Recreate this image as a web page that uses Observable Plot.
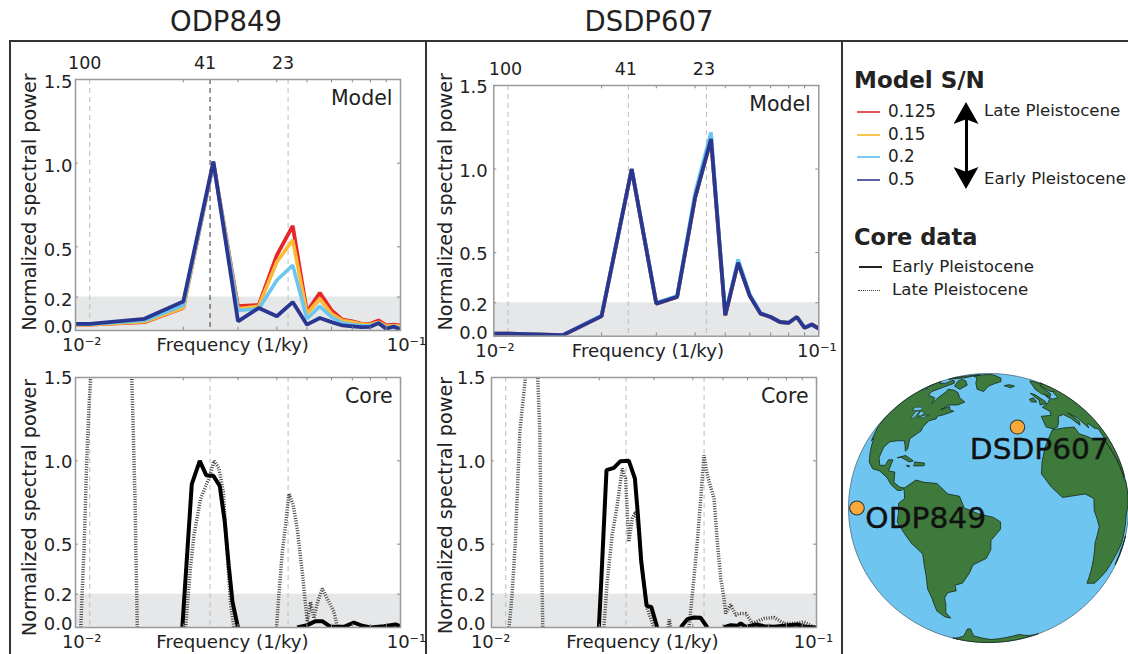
<!DOCTYPE html>
<html><head><meta charset="utf-8">
<script src="https://cdn.jsdelivr.net/npm/d3@7"></script>
<script src="https://cdn.jsdelivr.net/npm/@observablehq/plot@0.6"></script>
<style>
html,body{margin:0;padding:0;background:#fff;overflow:hidden}
body{width:1128px;height:654px;position:relative;font-family:"DejaVu Sans",sans-serif;color:#222}
.abs{position:absolute;white-space:nowrap;line-height:1}
.panel{position:absolute}
.panel svg{display:block;overflow:visible;background:none}
.rule{position:absolute;background:#333}
</style></head><body>
<script>
// ---------- data ----------
const gridFreq=[0.005,0.01,0.015,0.02,0.025,0.03,0.035,0.04,0.045,0.05,0.055,0.06,0.065,0.07,0.075,0.08,0.085,0.09,0.095,0.1];
const odpRed   =[0.035,0.035,0.05,0.135,1.0,0.145,0.153,0.45,0.625,0.11,0.225,0.12,0.065,0.055,0.04,0.04,0.06,0.03,0.035,0.03];
const odpYellow=[0.035,0.035,0.052,0.135,1.0,0.13,0.145,0.41,0.54,0.1,0.19,0.1,0.06,0.05,0.038,0.036,0.05,0.025,0.03,0.025];
const odpSky   =[0.037,0.037,0.06,0.15,1.0,0.12,0.13,0.3,0.39,0.07,0.145,0.08,0.045,0.035,0.028,0.028,0.045,0.015,0.025,0.012];
const odpNavy  =[0.04,0.04,0.07,0.173,1.01,0.055,0.135,0.085,0.17,0.035,0.075,0.05,0.03,0.025,0.02,0.022,0.044,0.01,0.024,0.005];
const dsdpNavy =[0.016,0.016,0.006,0.12,1.0,0.195,0.235,0.83,1.18,0.125,0.44,0.24,0.135,0.115,0.085,0.08,0.115,0.05,0.07,0.045];
const dsdpSky  =[0.016,0.016,0.006,0.125,1.0,0.2,0.24,0.86,1.22,0.13,0.46,0.25,0.14,0.115,0.085,0.08,0.115,0.05,0.07,0.045];

const odpEarlyF=[0.01986,0.02035,0.0213,0.0226,0.0237,0.025,0.0262,0.0272,0.028,0.0288,0.03,null,0.0465,0.0501,0.0533,0.056,0.0596,0.0658,0.0708,0.0753,0.0801,0.0884,0.0964,0.1];
const odpEarlyP=[0,0.3,0.86,1.0,0.914,0.91,0.85,0.634,0.374,0.154,0,null,0,0.014,0.038,0.038,0.004,0.004,0.03,0.01,0,0.008,0.018,0.008];
const odpLateF=[0.00936,0.00945,0.00959,0.00978,0.00995,0.01007,0.0103,0.0135,0.01365,0.0138,0.01399,0.0141,0.01423,null,
 0.02035,0.0207,0.02113,0.02165,0.02275,0.02419,0.02511,0.02606,0.02691,0.02771,0.02841,0.02912,null,
 0.0399,0.0406,0.04165,0.04268,0.04375,0.04518,0.04652,0.04829,0.0495,0.05012,0.05136,0.05263,0.05395,0.056,0.05811,0.06105,0.0626];
const odpLateP=[0,0.2,0.47,1.0,1.33,1.5,1.7,1.7,1.5,1.2,0.77,0.38,0,null,
 0,0.174,0.374,0.554,0.774,0.894,1.0,0.954,0.814,0.434,0.134,0,null,
 0,0.194,0.454,0.614,0.804,0.734,0.594,0.334,0.134,0.034,0.154,0.054,0.144,0.234,0.174,0.094,0.004];

const dsdpEarlyF=[0.01994,0.02029,0.0211,0.02228,0.02341,0.0249,0.02604,0.02663,0.0273,0.0284,0.0294,0.03073,null,
 0.03655,0.0384,0.04035,0.04241,0.04455,null,
 0.05016,0.05297,0.05565,0.05704,0.05919,0.06376,0.06782,0.07303,0.07865,0.08686,0.09239,0.1];
const dsdpEarlyP=[0,0.274,0.944,0.958,0.998,1.0,0.894,0.674,0.394,0.13,0.124,0,null,
 0,0.05,0.06,0.058,0,null,
 0,0.014,0.01,0.024,0.004,0.018,0.008,0.004,0.01,0.018,0.004,0];
const dsdpLateF=[0.01025,0.01048,0.01074,0.0111,0.01157,0.0119,0.0125,0.01268,0.01287,0.013,0.01316,null,
 0.0207,0.02121,0.022,0.02285,0.02371,0.0243,0.0249,0.02554,0.02617,0.02683,0.0275,0.02854,0.02998,null,
 0.03327,0.0336,0.03394,null,
 0.03888,0.03984,0.04135,0.04241,0.04345,0.04455,0.04679,0.04797,0.04918,0.05041,0.05103,0.05297,0.05497,0.05633,0.05919,0.06221,0.06782,0.07303,0.07865,0.08472,0.09125,0.09829];
const dsdpLateP=[0,0.194,0.514,1.174,1.5,1.7,1.7,1.5,1.174,0.574,0,null,
 0,0.274,0.554,0.734,0.954,0.894,0.514,0.654,0.694,0.574,0.334,0.114,0,null,
 0,0.05,0,null,
 0,0.194,0.514,0.774,1.034,0.914,0.774,0.514,0.294,0.174,0.084,0.138,0.074,0.084,0.084,0.024,0.054,0.06,0.024,0.024,0.034,0];

const yTicks=[0.2,0.5,1.0,1.5];
const minorX=[0.02,0.03,0.04,0.05,0.06,0.07,0.08,0.09];
const periods=[100,41,23];
const periodLabels=["100","41","23"];
const titles=["ODP849","DSDP607"];
const snLabels=["0.125","0.15","0.2","0.5"];
const snColors=["#e0565c","#f8c64f","#7ccbee","#5a60ae"];
const coreLabels=["Early Pleistocene","Late Pleistocene"];

// land outlines, lon/lat
const landRings=[
 [[-168,66],[-156,71],[-140,70],[-125,70],[-110,68],[-95,68],[-94,72],[-85,70],[-81,68],[-87,64],[-94,60],[-92,57],[-82,55],[-80,51],[-79,55],[-77,60],[-78,62],[-70,61],[-65,59],[-61,55],[-56,52],[-60,50],[-66,50],[-70,47],[-65,49],[-64,47],[-61,46],[-66,44],[-70,43],[-70,41.5],[-74,40.5],[-76,37],[-76,35],[-81,31],[-80,26],[-81,25],[-82.5,28],[-84,30],[-89,30],[-94,29.5],[-97,27],[-97.5,22],[-95,18.5],[-91,18.5],[-90,21],[-87,21],[-88,16],[-84,15.5],[-83.5,11],[-80,9],[-77.5,8.5],[-79,7.5],[-81,7.5],[-85,10],[-88,13],[-94,16],[-100,17],[-105,20],[-109,25.5],[-113,31],[-115,30],[-118,34],[-122,37],[-124,41],[-124,48],[-130,54],[-135,58],[-145,60],[-152,59],[-160,55],[-165,54.5],[-158,58],[-165,61],[-165,64]],
 [[-80,73],[-70,71],[-62,66],[-66,62],[-75,65],[-80,70]],
 [[-120,76],[-100,78],[-85,80],[-75,82],[-65,82],[-80,76],[-95,74],[-115,73]],
 [[-55,82],[-30,83],[-20,75],[-25,70],[-40,65],[-44,60],[-50,62],[-54,68],[-60,76],[-70,78]],
 [[-24,65.5],[-18,66.5],[-14,65],[-19,63.5]],
 [[-77.5,8.5],[-72,12],[-68,11],[-62,10.5],[-57,6],[-52,5],[-50,0],[-44,-2.5],[-38,-4],[-35,-6],[-35,-9],[-39,-14],[-39,-18],[-41,-22],[-47,-25],[-49,-29],[-53,-34],[-57,-35],[-57,-38],[-62,-39],[-65,-42],[-66,-46],[-69,-51],[-68,-55],[-72,-54],[-75,-50],[-73,-42],[-73,-37],[-71,-30],[-70,-20],[-75,-15],[-81,-6],[-80,-2],[-80,2],[-77,4]],
 [[-6,35.5],[10,37],[11,33.5],[20,31],[32,31],[35,28],[43,12],[51,12],[48,4],[40,-3],[40,-15],[35,-22],[32,-28],[26,-34],[18,-34],[14,-22],[12,-15],[13,-8],[9,-1],[9,4],[4,6],[-4,5],[-8,4.5],[-13,9],[-17,14.7],[-16,20],[-13,27],[-10,31]],
 [[-9,37],[-9,43],[-2,43.5],[-1,46],[-4.5,48.5],[2,51],[8,54],[8,57],[11,54],[20,55],[24,59],[30,60],[22,60],[21,64],[24,66],[18,62],[17,58],[12,56],[6,58],[5,62],[14,68],[25,71],[40,67],[60,69],[70,40],[60,25],[55,20],[45,13],[43,15],[35,28],[36,36],[30,36.5],[26,39],[24,38],[23,36.5],[20,40],[19,42],[13,45],[18,40],[16,38],[12,42],[8,44],[3,43],[0,39],[-2,37],[-5,36]],
 [[-5,58.5],[-2,57.5],[1.5,52.5],[1,51],[-5,50],[-3,53]],
 [[-10,54],[-6,55],[-6,52],[-10,52]],
 [[-84.5,22],[-80,23],[-75,20.5],[-77,20],[-82,22]],
 [[-74,20],[-69,19.5],[-69,18.3],[-74,18.2]],
 [[-78,18.5],[-76.3,18.2],[-77,17.8]],
 [[49,-12],[50,-16],[47,-25],[44,-24],[44,-17]],
 [[-180,-78],[-120,-75],[-75,-72],[-60,-64],[-57,-64],[-60,-72],[-35,-78],[0,-70],[60,-67],[120,-66],[180,-72],[180,-78]]
];
const lakeRings=[
 [[-92,48.5],[-85,48.5],[-85,46.5],[-92,46.5]],
 [[-88,46],[-85,46],[-86,42],[-88,42]],
 [[-84,46],[-80,45],[-82,43],[-84,44]],
 [[-83,42.5],[-79,43.5],[-76,44],[-79,42.2]],
 [[-125,66.5],[-118,66.5],[-118,65],[-125,65]],
 [[-118,62.5],[-110,62.5],[-114,60.8],[-118,61]]
];
const sites=[{name:"DSDP607",lon:-25,lat:37,dx:21,dy:23},{name:"ODP849",lon:-110,lat:0,dx:66,dy:11}];

// ---------- helpers ----------
const rows=(xs,ys)=>xs.map((x,i)=>({x,y:ys[i]}));
const FONT='"DejaVu Sans",sans-serif', INK="#222", XMIN=0.009;
const line=(xs,ys,stroke,sw,extra={})=>Plot.line(rows(xs,ys),{x:"x",y:"y",stroke,strokeWidth:sw,clip:true,strokeLinejoin:"miter",strokeLinecap:"butt",...extra});
function mount(node,left,top){const w=document.createElement("div");w.className="panel";w.style.left=left+"px";w.style.top=top+"px";w.appendChild(node);document.body.appendChild(w);}
function div(cls,css,txt){const d=document.createElement("div");d.className=cls;d.style.cssText=css;if(txt)d.textContent=txt;document.body.appendChild(d);return d;}

function panel(c){
 const marks=[
  Plot.rectY([0],{x1:XMIN,x2:0.1,y1:0,y2:0.2,fill:"#e6e7e8"}),
  Plot.ruleX(periods,{x:d=>1/d,stroke:d=>(c.darkRule===d?"#333":"#bdbdbd"),strokeWidth:1,strokeDasharray:"5 4"}),
  ...c.lines,
  Plot.ruleX(minorX,{x:d=>d,y1:0,y2:0.02,stroke:"#888"}),
  Plot.ruleX(minorX,{x:d=>d,y1:1.48,y2:1.5,stroke:"#888"}),
  Plot.ruleY(yTicks,{y:d=>d,x1:XMIN,x2:0.0092,stroke:"#888"}),
  Plot.ruleY(yTicks,{y:d=>d,x1:0.0978,x2:0.1,stroke:"#888"}),
  Plot.frame({stroke:"#999",strokeWidth:1.5}),
  Plot.text(yTicks,{y:d=>d,frameAnchor:"left",textAnchor:"end",text:d=>d.toFixed(1),dx:c.tickDx,dy:c.tickDy,fontSize:18,fill:INK}),
  Plot.text([0],{y:d=>d,frameAnchor:"left",textAnchor:"end",text:d=>d.toFixed(1),dx:c.tickDx,dy:-3,fontSize:18,fill:INK}),
  Plot.text(["Normalized spectral power"],{frameAnchor:"left",textAnchor:"middle",lineAnchor:"middle",rotate:-90,dx:c.yLabelDx,dy:c.yLabelDy,fontSize:19.2,fill:INK}),
  Plot.text(["10\u207B\u00B2"],{x:()=>0.01,frameAnchor:"bottom",lineAnchor:"middle",dx:c.decDx[0],dy:c.decDy,fontSize:18,fill:INK}),
  Plot.text(["10\u207B\u00B9"],{x:()=>0.1,frameAnchor:"bottom",lineAnchor:"middle",dx:c.decDx[1],dy:c.decDy,fontSize:18,fill:INK}),
  Plot.text(["Frequency (1/ky)"],{x:()=>c.freqX,frameAnchor:"bottom",lineAnchor:"middle",dy:c.decDy,fontSize:18.2,fill:INK}),
  Plot.text([c.tag],{frameAnchor:"top-right",textAnchor:"end",lineAnchor:"middle",dx:-8,dy:19,fontSize:20.5,fill:INK})
 ];
 if(c.top) marks.push(Plot.text(periods,{x:d=>1/d,text:(d,i)=>periodLabels[i],frameAnchor:"top",lineAnchor:"middle",dx:c.topDx,dy:-16,fontSize:17.5,fill:INK}));
 const p=Plot.plot({width:c.w,height:c.h,marginLeft:c.ml,marginRight:c.mr,marginTop:c.mt,marginBottom:c.mb,
  style:{fontFamily:FONT,background:"none",overflow:"visible"},
  x:{type:"log",domain:[XMIN,0.1],axis:null},y:{domain:[0,1.5],axis:null},marks});
 mount(p,c.left,c.top0);
}
const modelLines=(r,y,s,n)=>[line(gridFreq,r,"#e8262a",3.8),line(gridFreq,y,"#fbb936",3.6),line(gridFreq,s,"#6cc5ee",3.6),line(gridFreq,n,"#2a3790",3.8)];
const coreLines=(ef,ep,lf,lp)=>[line(lf,lp,"#444",3.5,{strokeDasharray:"1 1.5"}),line(ef,ep,"#000",4)];

// ---------- frame and titles ----------
div("rule","left:9px;top:40px;width:1119px;height:2px");
div("rule","left:9px;top:40px;width:2px;height:614px");
div("rule","left:425px;top:40px;width:2px;height:614px");
div("rule","left:841px;top:40px;width:2px;height:614px");
div("abs","left:126px;width:200px;text-align:center;top:8px;font-size:27.5px",titles[0]);
div("abs","left:549px;width:200px;text-align:center;top:8px;font-size:27.5px",titles[1]);

// ---------- panels ----------
panel({left:11,top0:43,w:414,h:319,ml:64,mr:25,mt:36,mb:32,tag:"Model",top:true,darkRule:41,topDx:-5,
 tickDx:-3,tickDy:3,yLabelDx:-46,yLabelDy:-3,decDx:[-8,6],decDy:15,freqX:0.02884,
 lines:modelLines(odpRed,odpYellow,odpSky,odpNavy)});
panel({left:428,top0:43,w:413,h:319,ml:65.3,mr:22.7,mt:42,mb:26.3,tag:"Model",top:true,topDx:-2.5,
 tickDx:-6,tickDy:2,yLabelDx:-48,yLabelDy:-9,decDx:[-13,-2],decDy:15,freqX:0.0282,
 lines:modelLines(dsdpNavy,dsdpNavy,dsdpSky,dsdpNavy)});
panel({left:11,top0:366,w:414,h:288,ml:64,mr:25,mt:11,mb:27,tag:"Core",tickDx:-3,tickDy:1,yLabelDx:-46,yLabelDy:5,decDx:[-8,6],decDy:15,freqX:0.0288,
 lines:coreLines(odpEarlyF,odpEarlyP,odpLateF,odpLateP)});
panel({left:428,top0:366,w:413,h:288,ml:63,mr:25,mt:11,mb:27,tag:"Core",tickDx:-6,tickDy:1,yLabelDx:-46,yLabelDy:3,decDx:[-15,-3],decDy:15,freqX:0.02754,
 lines:coreLines(dsdpEarlyF,dsdpEarlyP,dsdpLateF,dsdpLateP)});

// ---------- legend ----------
div("abs","left:854px;top:69px;font-size:23px;font-weight:bold","Model S/N");
snLabels.forEach((t,i)=>{const y=[112,135,157,180][i];
 div("abs",`left:857px;top:${y-1}px;width:23px;height:2px;background:${snColors[i]}`);
 div("abs",`left:888px;top:${y-9}px;font-size:16.8px`,t);});
div("abs","left:965px;top:115px;width:2.5px;height:62px;background:#000");
div("abs","left:953.5px;top:102px;width:25px;height:22px;background:#000;clip-path:polygon(50% 0,100% 100%,50% 78%,0 100%)");
div("abs","left:953.5px;top:167px;width:25px;height:22px;background:#000;clip-path:polygon(50% 100%,100% 0,50% 22%,0 0)");
div("abs","left:984px;top:103px;font-size:16.6px","Late Pleistocene");
div("abs","left:984px;top:171px;font-size:16.6px","Early Pleistocene");
div("abs","left:854px;top:226px;font-size:22.5px;font-weight:bold","Core data");
div("abs","left:859px;top:266px;width:23px;height:2px;background:#222");
div("abs","left:858px;top:290px;width:22px;height:0;border-top:1.5px dotted #444");
div("abs","left:892px;top:259px;font-size:16.6px",coreLabels[0]);
div("abs","left:892px;top:282px;font-size:16.6px",coreLabels[1]);

// ---------- globe ----------
const polys=r=>r.map(x=>({type:"Polygon",coordinates:[x.concat([x[0]])]}));
const globe=Plot.plot({width:269,height:269,margin:0,
 style:{fontFamily:FONT,background:"none",overflow:"visible"},
 projection:{type:"orthographic",rotate:[40,0]},
 marks:[
  Plot.sphere({fill:"#6ec6f0",stroke:"#4a6a80",strokeWidth:0.8}),
  Plot.geo(polys(landRings),{fill:"#3f7a3d",stroke:"#16281a",strokeWidth:0.8}),
  Plot.geo(polys(lakeRings),{fill:"#6ec6f0",stroke:"#16281a",strokeWidth:0.5}),
  Plot.dot(sites,{x:"lon",y:"lat",r:7,fill:"#f9a83a",stroke:"#333",strokeWidth:1}),
  ...sites.map(s=>Plot.text([s],{x:"lon",y:"lat",text:"name",dx:s.dx,dy:s.dy,fontSize:28.5,fill:"#111",stroke:"#111",strokeWidth:0.4}))
 ]});
globe.setAttribute("preserveAspectRatio","none");
globe.style.width="280px";globe.style.height="269px";globe.style.maxWidth="none";
mount(globe,848,373);
</script>
</body></html>
